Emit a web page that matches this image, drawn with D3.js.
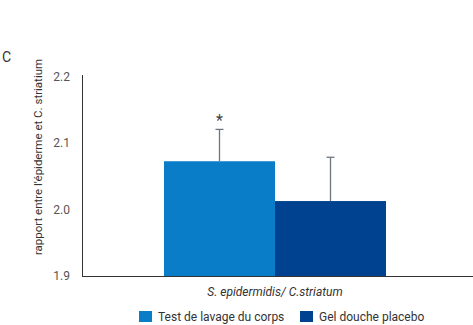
<!DOCTYPE html>
<html>
<head>
<meta charset="utf-8">
<script src="https://cdn.jsdelivr.net/npm/d3@7"></script>
<style>
  body { margin: 0; background: #fff; }
  svg { font-family: Roboto, "Noto Sans", sans-serif; }
</style>
</head>
<body>
<div id="chart"></div>
<script>
// data
var category = "S. epidermidis/ C.striatum";
var seriesNames = ["Test de lavage du corps", "Gel douche placebo"];
var seriesValues = [2.073, 2.013];
var errorTops = [2.121, 2.079];
var yTicks = [1.9, 2.0, 2.1, 2.2];
var colors = ["#0a7dc9", "#00428f"];

var svgWidth = 473, svgHeight = 325;

var svg = d3.select("#chart")
    .append("svg")
    .attr("width", svgWidth)
    .attr("height", svgHeight);

var yScale = d3.scaleLinear()
    .domain([1.9, 2.2])
    .range([276, 77]);

var xScale = d3.scaleBand()
    .domain(seriesNames)
    .range([164, 386]);

// y axis text
svg.selectAll(".ytick")
    .data(yTicks)
    .enter()
    .append("text")
    .attr("class", "ytick")
    .attr("x", 70)
    .attr("y", d => yScale(d) + 4)
    .attr("text-anchor", "end")
    .attr("fill", "#555")
    .attr("font-size", 12)
    .text(d => d.toFixed(1));

// axis lines
svg.append("line")
    .attr("x1", 82.5).attr("x2", 82.5)
    .attr("y1", 75).attr("y2", yScale(1.9))
    .attr("stroke", "#333");
svg.append("line")
    .attr("x1", 82).attr("x2", 473)
    .attr("y1", yScale(1.9) + 0.5).attr("y2", yScale(1.9) + 0.5)
    .attr("stroke", "#333");

// bars
svg.selectAll(".bar")
    .data(seriesValues)
    .enter()
    .append("rect")
    .attr("class", "bar")
    .attr("x", (d, i) => xScale(seriesNames[i]))
    .attr("width", xScale.bandwidth())
    .attr("y", d => yScale(d))
    .attr("height", d => yScale(1.9) - yScale(d))
    .attr("fill", (d, i) => colors[i]);

// error bars
var errG = svg.selectAll(".err")
    .data(errorTops)
    .enter()
    .append("g")
    .attr("class", "err")
    .attr("stroke", "#6e7680")
    .attr("stroke-width", 1.3);
errG.append("line")
    .attr("x1", (d, i) => xScale(seriesNames[i]) + xScale.bandwidth() / 2)
    .attr("x2", (d, i) => xScale(seriesNames[i]) + xScale.bandwidth() / 2)
    .attr("y1", (d, i) => yScale(seriesValues[i]))
    .attr("y2", d => yScale(d));
errG.append("line")
    .attr("x1", (d, i) => xScale(seriesNames[i]) + xScale.bandwidth() / 2 - 4)
    .attr("x2", (d, i) => xScale(seriesNames[i]) + xScale.bandwidth() / 2 + 4)
    .attr("y1", d => yScale(d))
    .attr("y2", d => yScale(d));

// significance star
svg.append("text")
    .attr("x", xScale(seriesNames[0]) + xScale.bandwidth() / 2)
    .attr("y", yScale(errorTops[0]) - 3)
    .attr("text-anchor", "middle")
    .attr("font-size", 16)
    .attr("fill", "#444")
    .text("*");

// panel letter
svg.append("text")
    .attr("x", 2)
    .attr("y", 62)
    .attr("font-size", 14)
    .attr("fill", "#333")
    .text("C");

// y label
svg.append("text")
    .attr("transform", "translate(42, 157) rotate(-90)")
    .attr("text-anchor", "middle")
    .attr("font-size", 11.5)
    .attr("fill", "#333")
    .text("rapport entre l'épiderme et C. striatium");

// category label
svg.append("text")
    .attr("x", 275)
    .attr("y", 296)
    .attr("text-anchor", "middle")
    .attr("font-size", 12)
    .attr("font-style", "italic")
    .attr("fill", "#333")
    .text(category);

// legend
var legendX = [139, 300];
var legend = svg.selectAll(".legend")
    .data(seriesNames)
    .enter()
    .append("g")
    .attr("class", "legend")
    .attr("transform", (d, i) => `translate(${legendX[i]}, 311)`);
legend.append("rect")
    .attr("width", 13).attr("height", 11)
    .attr("fill", (d, i) => colors[i]);
legend.append("text")
    .attr("x", 19)
    .attr("y", 10)
    .attr("font-size", 12)
    .attr("fill", "#333")
    .text(d => d);
</script>
</body>
</html>
